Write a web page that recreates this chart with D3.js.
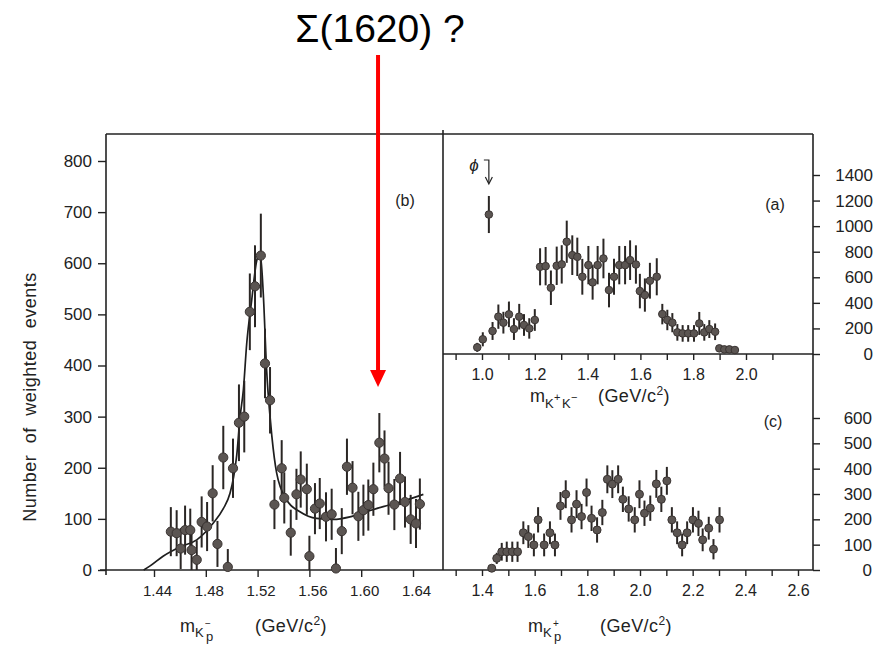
<!DOCTYPE html>
<html>
<head>
<meta charset="utf-8">
<script src="https://cdn.jsdelivr.net/npm/d3@7"></script>
<style>
  html, body { margin: 0; padding: 0; background: #fff; }
  svg { display: block; font-family: "Liberation Sans", Arial, sans-serif; }
  .tick text { fill: #222; }
  .tick line { stroke: #222; stroke-width: 1.4; }
</style>
</head>
<body>
<svg id="chart" width="883" height="647"></svg>
<script>
// ---- (b) K- p invariant mass: weighted events per bin ----
const bMass = [1.453,1.4575,1.4606,1.464,1.468,1.469,1.473,1.4768,1.481,1.4853,1.489,1.4935,1.497,1.501,1.5056,1.5097,1.514,1.518,1.5225,1.5257,1.5296,1.533,1.5386,1.5406,1.5456,1.550,1.5533,1.558,1.560,1.5643,1.568,1.5728,1.5772,1.5805,1.585,1.589,1.5933,1.5978,1.6017,1.6055,1.6094,1.614,1.618,1.6211,1.6256,1.630,1.6338,1.6382,1.6423,1.6453];
const bEvents = [75,72,42,78,78,39,20,94,85,150,51,220,6,199,288,300,505,555,615,404,332,128,199,141,73,148,177,158,27,120,130,104,109,3,76,202,161,105,117,127,158,249,218,160,128,179,133,99,91,129];
const bError = [48,45,40,48,42,40,38,50,48,55,45,62,35,58,75,70,75,80,82,68,65,48,55,50,45,50,55,50,40,50,50,48,50,40,45,55,52,48,50,50,52,58,55,52,50,52,50,48,48,50];
// fitted resonance + background curve
const bFitMass = [1.432,1.437,1.447,1.460,1.473,1.4858,1.4935,1.4987,1.5015,1.5039,1.5065,1.509,1.5116,1.5154,1.5193,1.522,1.5244,1.527,1.5296,1.531,1.5347,1.5425,1.5527,1.5656,1.5785,1.5913,1.604,1.617,1.630,1.648];
const bFitEvents = [0,8,27,45,59,92,120,150,182,225,300,352,443,527,605,620,540,390,300,262,190,137,114,101,99,104,114,124,133,148];

// ---- (a) K+ K- invariant mass ----
const aMass = [0.982,1.003,1.026,1.040,1.062,1.081,1.102,1.121,1.141,1.159,1.179,1.200,1.220,1.241,1.261,1.283,1.302,1.321,1.342,1.361,1.380,1.403,1.419,1.438,1.460,1.481,1.500,1.520,1.542,1.561,1.583,1.598,1.617,1.636,1.662,1.683,1.702,1.721,1.740,1.760,1.781,1.803,1.823,1.842,1.861,1.883,1.899,1.918,1.937,1.958];
const aEvents = [52,115,1091,180,292,245,310,195,292,227,200,266,682,687,518,690,701,878,773,760,604,695,560,695,747,500,604,695,695,734,700,492,461,573,604,312,266,245,169,161,161,161,239,169,195,174,44,36,36,31];
const aError = [35,55,145,70,95,85,100,85,100,85,80,85,145,150,135,150,150,165,155,150,140,150,135,150,155,135,140,150,150,155,150,135,130,140,145,80,80,75,65,65,65,65,90,65,70,65,25,22,22,20];

// ---- (c) K+ p invariant mass ----
const cMass = [1.437,1.456,1.475,1.494,1.515,1.535,1.557,1.576,1.597,1.613,1.636,1.658,1.677,1.698,1.718,1.740,1.759,1.778,1.797,1.816,1.837,1.857,1.876,1.895,1.917,1.935,1.957,1.980,1.998,2.017,2.039,2.062,2.081,2.102,2.121,2.141,2.160,2.179,2.201,2.222,2.238,2.261,2.279,2.302];
const cEvents = [7,46,72,72,72,72,147,132,99,198,99,147,99,253,299,198,260,211,306,204,158,227,358,339,358,279,241,198,299,224,244,340,279,352,198,147,99,147,198,184,119,165,82,198];
const cError = [12,22,35,40,40,40,45,45,45,50,45,45,45,55,55,50,55,50,55,50,50,50,55,55,55,50,50,50,55,50,50,55,50,55,50,45,45,45,50,50,45,45,40,50];

// ---- axis ticks and labels ----
const bTicksX = [1.44,1.48,1.52,1.56,1.60,1.64];
const bTicksY = [0,100,200,300,400,500,600,700,800];
const aTicksX = [0.9,1.0,1.1,1.2,1.3,1.4,1.5,1.6,1.7,1.8,1.9,2.0,2.1];
const aLabelsX = [1.0,1.2,1.4,1.6,1.8,2.0];
const aTicksY = [0,200,400,600,800,1000,1200,1400];
const cTicksX = [1.3,1.4,1.5,1.6,1.7,1.8,1.9,2.0,2.1,2.2,2.3,2.4,2.5,2.6];
const cLabelsX = [1.4,1.6,1.8,2.0,2.2,2.4,2.6];
const cTicksY = [0,100,200,300,400,500,600];

const annotationText = "\u03A3(1620) ?";
const annotationMass = 1.613;
const phiMass = 1.026;

const svg = d3.select("#chart");
const ink = "#222";

// frame geometry
const L = 106, M = 443, R = 813, T = 134, MID = 354, B = 570;

const xB = d3.scaleLinear().domain([1.44, 1.64]).range([154, 413]);
const yB = d3.scaleLinear().domain([0, 800]).range([B, 161]);
const xA = d3.scaleLinear().domain([1.0, 2.0]).range([482, 746]);
const yA = d3.scaleLinear().domain([0, 1400]).range([MID, 175]);
const xC = d3.scaleLinear().domain([1.4, 2.6]).range([482, 798]);
const yC = d3.scaleLinear().domain([0, 600]).range([B, 418]);

const onlyLabels = list => d => list.some(v => Math.abs(v - d) < 1e-9) ? d3.format(".1f")(d) : "";

// axes
const gBx = svg.append("g").attr("transform", `translate(0,${B})`)
  .call(d3.axisBottom(xB).tickValues(bTicksX).tickSize(7).tickPadding(8)
    .tickFormat(d3.format(".2f")));
gBx.select(".domain").remove();
gBx.selectAll("text").style("font-size", "15px").attr("dx", "3");

const gBy = svg.append("g").attr("transform", `translate(${L},0)`)
  .call(d3.axisLeft(yB).tickValues(bTicksY).tickSize(8).tickPadding(6).tickFormat(d3.format("d")));
gBy.select(".domain").remove();
gBy.selectAll("text").style("font-size", "17px");

const gAx = svg.append("g").attr("transform", `translate(0,${MID})`)
  .call(d3.axisBottom(xA).tickValues(aTicksX).tickSize(6).tickPadding(9).tickFormat(onlyLabels(aLabelsX)));
gAx.select(".domain").remove();
gAx.selectAll("text").style("font-size", "16px");

const gAy = svg.append("g").attr("transform", `translate(${R},0)`)
  .call(d3.axisRight(yA).tickValues(aTicksY).tickSize(7).tickPadding(0).tickFormat(d3.format("d")));
gAy.select(".domain").remove();
gAy.selectAll("text").style("font-size", "17px").attr("text-anchor", "end").attr("x", 60);

const gCx = svg.append("g").attr("transform", `translate(0,${B})`)
  .call(d3.axisBottom(xC).tickValues(cTicksX).tickSize(6).tickPadding(9).tickFormat(onlyLabels(cLabelsX)));
gCx.select(".domain").remove();
gCx.selectAll("text").style("font-size", "16px");

const gCy = svg.append("g").attr("transform", `translate(${R},0)`)
  .call(d3.axisRight(yC).tickValues(cTicksY).tickSize(7).tickPadding(0).tickFormat(d3.format("d")));
gCy.select(".domain").remove();
gCy.selectAll("text").style("font-size", "17px").attr("text-anchor", "end").attr("x", 59);

// frame
const frame = svg.append("g").attr("stroke", ink).attr("stroke-width", 1.6).attr("fill", "none");
frame.append("line").attr("x1", L).attr("x2", L).attr("y1", T).attr("y2", B + 5);
frame.append("line").attr("x1", L).attr("x2", R).attr("y1", T).attr("y2", T);
frame.append("line").attr("x1", M).attr("x2", M).attr("y1", T - 4).attr("y2", B);
frame.append("line").attr("x1", R).attr("x2", R).attr("y1", T).attr("y2", B);
frame.append("line").attr("x1", M).attr("x2", R).attr("y1", MID).attr("y2", MID);
frame.append("line").attr("x1", L - 6).attr("x2", R).attr("y1", B).attr("y2", B);

// data with error bars
function drawPoints(xs, ys, es, xScale, yScale, r) {
  const rows = xs.map((x, i) => ({ x, y: ys[i], e: es[i] }));
  const g = svg.append("g");
  g.selectAll("line.err").data(rows).join("line")
    .attr("class", "err")
    .attr("x1", d => xScale(d.x)).attr("x2", d => xScale(d.x))
    .attr("y1", d => yScale(Math.max(0, d.y - d.e)))
    .attr("y2", d => yScale(d.y + d.e))
    .attr("stroke", "#2a2624").attr("stroke-width", 2);
  g.selectAll("circle").data(rows).join("circle")
    .attr("cx", d => xScale(d.x)).attr("cy", d => yScale(d.y)).attr("r", r)
    .attr("fill", "#5b5552").attr("stroke", "#3a3432").attr("stroke-width", 1);
}

// fit curve under (b)
svg.append("path")
  .datum(bFitMass.map((m, i) => [m, bFitEvents[i]]))
  .attr("d", d3.line().x(d => xB(d[0])).y(d => yB(d[1])).curve(d3.curveMonotoneX))
  .attr("fill", "none").attr("stroke", "#1e1e1e").attr("stroke-width", 1.7);

drawPoints(bMass, bEvents, bError, xB, yB, 4.6);
drawPoints(aMass, aEvents, aError, xA, yA, 3.8);
drawPoints(cMass, cEvents, cError, xC, yC, 4);

// panel tags
const tag = (x, y, t) => svg.append("text").attr("x", x).attr("y", y)
  .attr("text-anchor", "middle").style("font-size", "16px").attr("fill", ink).text(t);
tag(405, 206, "(b)");
tag(775, 210, "(a)");
tag(773, 427, "(c)");

// phi marker
const phiX = xA(phiMass);
svg.append("text").attr("x", phiX - 15).attr("y", 171).attr("text-anchor", "middle")
  .style("font-size", "17px").style("font-style", "italic").attr("fill", ink).text("\u03D5");
svg.append("path").attr("d", `M${phiX - 5},160 H${phiX} V183`)
  .attr("fill", "none").attr("stroke", ink).attr("stroke-width", 1.2);
svg.append("path").attr("d", `M${phiX - 3.5},177 L${phiX},184 L${phiX + 3.5},177`)
  .attr("fill", "none").attr("stroke", ink).attr("stroke-width", 1.2);

// axis titles: m with a subscripted particle pair, then the unit
function massTitle(x, y, parts, unitX) {
  const g = svg.append("g").attr("fill", ink);
  g.append("text").attr("x", x).attr("y", y).style("font-size", "18px").text("m");
  parts.forEach(p => {
    g.append("text").attr("x", x + p.dx).attr("y", y + p.dy)
      .style("font-size", p.size + "px").text(p.t);
  });
  const u = g.append("text").attr("x", unitX).attr("y", y)
    .style("font-size", "18px").style("letter-spacing", "0.4px");
  u.append("tspan").text("(GeV/c");
  u.append("tspan").attr("dy", -7).style("font-size", "12px").text("2");
  u.append("tspan").attr("dy", 7).text(")");
}
massTitle(180, 632, [
  { t: "K", dx: 15, dy: 5, size: 13 },
  { t: "\u2212", dx: 25, dy: -5, size: 10 },
  { t: "p", dx: 26, dy: 9, size: 13 }
], 255);
massTitle(530, 402, [
  { t: "K", dx: 15, dy: 6, size: 13 },
  { t: "+", dx: 24, dy: -1, size: 11 },
  { t: "K", dx: 32, dy: 6, size: 13 },
  { t: "\u2212", dx: 41, dy: -1, size: 11 }
], 598);
massTitle(528, 632, [
  { t: "K", dx: 15, dy: 5, size: 13 },
  { t: "+", dx: 25, dy: -5, size: 10 },
  { t: "p", dx: 26, dy: 9, size: 13 }
], 600);

// y title
svg.append("text")
  .attr("transform", "translate(36,397) rotate(-90)")
  .attr("text-anchor", "middle").attr("fill", ink)
  .style("font-size", "18px").style("letter-spacing", "0.5px").style("word-spacing", "6px")
  .text("Number of weighted events");

// annotation: label and red arrow
const arrowX = xB(annotationMass);
svg.append("text").attr("x", arrowX + 2).attr("y", 42).attr("text-anchor", "middle")
  .style("font-size", "39px").attr("fill", "#000").text(annotationText);
svg.append("line").attr("x1", arrowX).attr("x2", arrowX).attr("y1", 55).attr("y2", 372)
  .attr("stroke", "#ff0000").attr("stroke-width", 4);
svg.append("path").attr("d", `M${arrowX - 8},370 L${arrowX + 8},370 L${arrowX},387 Z`)
  .attr("fill", "#ff0000");
</script>
</body>
</html>
